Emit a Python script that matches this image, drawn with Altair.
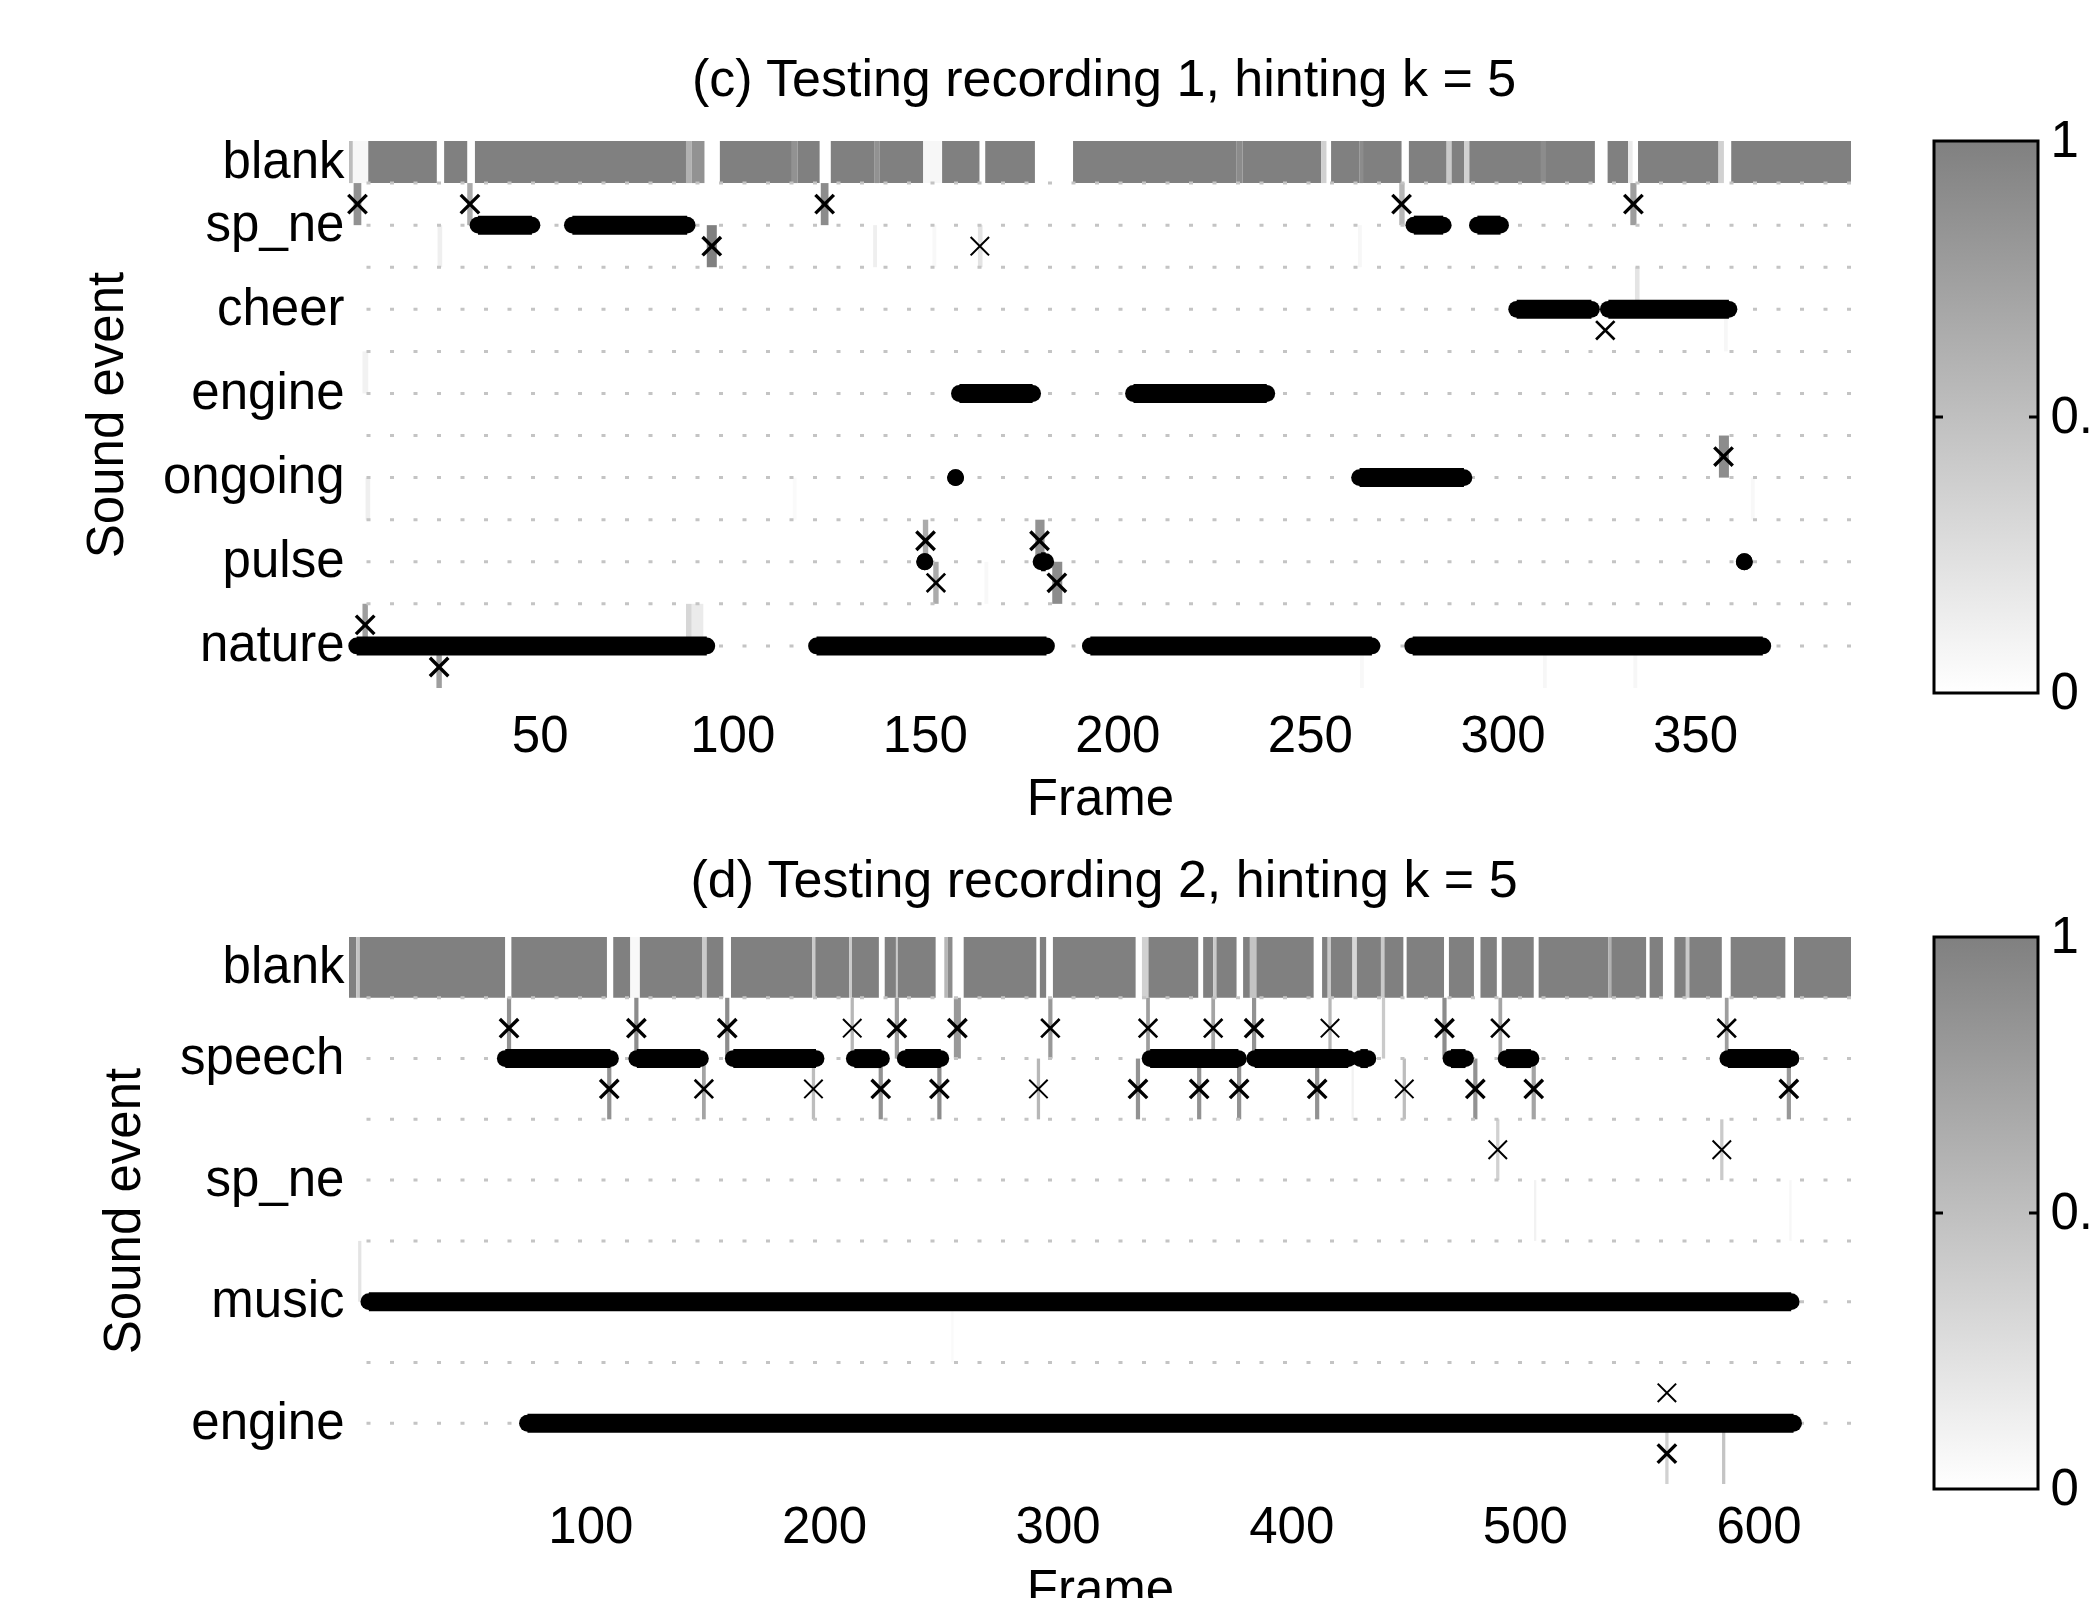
import altair as alt
import pandas as pd

FONT = "Liberation Sans"
FS = 51

# ---------------- panel (c) ----------------
c_title = "(c) Testing recording 1, hinting k = 5"
c_names = ["nature", "pulse", "ongoing", "engine", "cheer", "sp_ne", "blank"]
c_rows = [1, 2, 3, 4, 5, 6, 6.75]
c_xdomain = [0.5, 390.5]
c_ydomain = [0.5, 7.0]
c_xticks = [50, 100, 150, 200, 250, 300, 350]
# blank row heat map: (from frame, to frame, probability)
c_blank = [
    (0.5, 1.5, 0.5), (1.5, 5.5, 0.06), (5.5, 23.3, 1), (25.2, 31.2, 1), (33.2, 88, 1),
    (88, 89.5, 0.6), (89.5, 92.8, 0.85), (96.8, 115.5, 1), (115.5, 117, 0.85), (117, 122.7, 1),
    (125.6, 137, 1), (137, 138.2, 0.85), (138.2, 149.6, 1), (149.6, 154.4, 0.06), (154.5, 164.2, 1),
    (165.7, 178.6, 1), (188.5, 231, 1), (231, 232.5, 0.9), (232.5, 252.9, 1), (252.9, 254.3, 0.35),
    (255.5, 262.8, 1), (262.8, 263.8, 0.9), (263.8, 273.8, 1), (275.7, 285.5, 1), (285.5, 286.8, 0.4),
    (286.8, 290.1, 1), (290.1, 291.4, 0.35), (291.4, 310, 1), (310, 311.3, 0.9), (311.3, 324, 1),
    (327.3, 332.6, 1), (332.6, 333.8, 0.15), (335.2, 356.1, 1), (356.1, 357.5, 0.35), (359.4, 390.5, 1),
]
# other heat-map cells: (from frame, to frame, lower edge of half row, probability)
c_cells = [
    (1.7, 3.7, 6.0, 0.85), (31.2, 32.6, 6.0, 0.65), (123.0, 125.0, 6.0, 0.9), (273.2, 274.6, 6.0, 0.55),
    (333.2, 334.8, 6.0, 0.75),
    (93.4, 96.0, 5.5, 1.0), (163.8, 165.0, 5.5, 0.2), (23.5, 24.7, 5.5, 0.12), (136.6, 137.6, 5.5, 0.12),
    (152.0, 153.0, 5.5, 0.05), (262.5, 263.5, 5.5, 0.06),
    (334.4, 335.6, 5.0, 0.2), (357.5, 358.5, 4.5, 0.06),
    (4.0, 5.5, 4.0, 0.1),
    (356.2, 358.8, 3.0, 0.9),
    (4.8, 6.0, 2.5, 0.12), (115.7, 116.7, 2.5, 0.04), (364.5, 365.5, 2.5, 0.05),
    (149.5, 150.9, 2.0, 0.65), (178.7, 181.1, 2.0, 0.85),
    (152.2, 153.6, 1.5, 0.65), (183.1, 185.7, 1.5, 0.9), (165.5, 166.5, 1.5, 0.05),
    (4.0, 5.4, 1.0, 0.75), (88.0, 89.5, 1.0, 0.3), (89.5, 92.5, 1.0, 0.15),
    (23.2, 24.6, 0.5, 0.75), (263.0, 264.0, 0.5, 0.05), (310.5, 311.5, 0.5, 0.06), (334.0, 335.0, 0.5, 0.06),
]
# ground-truth events: (event, first frame, last frame)
c_events = [
    ("sp_ne", 34, 48), ("sp_ne", 58.5, 88.3), ("sp_ne", 277, 284.6), ("sp_ne", 293.5, 299.5),
    ("cheer", 303.7, 323.1), ("cheer", 327.5, 358.8),
    ("engine", 159, 178), ("engine", 204.2, 238.8),
    ("ongoing", 158, 158), ("ongoing", 262.9, 290),
    ("pulse", 150, 150), ("pulse", 180.2, 181.4), ("pulse", 362.8, 362.8),
    ("nature", 2.5, 93.4), ("nature", 121.9, 181.6), ("nature", 193, 266.1), ("nature", 276.7, 367.6),
]
# hint markers: (frame, y, weight)
c_marks = [
    (2.7, 6.25, 2), (31.9, 6.25, 2), (124.0, 6.25, 2), (273.8, 6.25, 2), (334.0, 6.25, 2),
    (94.7, 5.75, 2), (164.3, 5.75, 0),
    (326.7, 4.75, 1),
    (357.4, 3.25, 2),
    (150.2, 2.25, 2), (179.8, 2.25, 2),
    (152.9, 1.75, 1), (184.3, 1.75, 2),
    (4.7, 1.25, 2), (23.9, 0.75, 2),
]

# ---------------- panel (d) ----------------
d_title = "(d) Testing recording 2, hinting k = 5"
d_names = ["engine", "music", "sp_ne", "speech", "blank"]
d_rows = [1, 2, 3, 4, 4.75]
d_xdomain = [-3.3, 639.6]
d_ydomain = [0.5, 5.0]
d_xticks = [100, 200, 300, 400, 500, 600]
d_blank = [
    (-3.3, -0.2, 1), (-0.2, 1.3, 0.45), (1.3, 63.5, 1), (66.2, 107.1, 1), (109.8, 117.1, 1),
    (117.1, 121.2, 0.05), (121.2, 147.8, 1), (147.8, 149.8, 0.4), (149.8, 156.9, 1), (160.2, 194.9, 1),
    (194.9, 196.3, 0.4), (196.3, 210.8, 1), (210.8, 212, 0.4), (212, 223.5, 1), (226, 230.8, 1),
    (230.8, 231.6, 0.4), (231.6, 247.8, 1), (251.5, 253, 0.55), (253, 255, 0.9), (259.8, 290.9, 1),
    (292.4, 295.1, 1), (298, 333.4, 1), (336.1, 338.9, 0.35), (338.9, 360.2, 1), (362.3, 366.6, 1),
    (366.6, 368, 0.4), (368, 376.6, 1), (379.4, 382.3, 1), (382.3, 385.1, 0.45), (385.1, 409.6, 1),
    (413.2, 415.6, 1), (415.6, 417, 0.4), (417, 426.2, 1), (426.2, 428.1, 0.3), (428.1, 438.4, 1),
    (438.4, 439.9, 0.4), (439.9, 448, 1), (449.4, 465.4, 1), (467.5, 478.2, 1), (481, 488, 1),
    (490.1, 503.8, 1), (505.9, 535.7, 1), (535.7, 537, 0.6), (537, 551.9, 1), (553.4, 559.1, 1),
    (564, 568.9, 1), (568.9, 570.4, 0.4), (570.4, 584.3, 1), (588.1, 611.5, 1), (615.2, 639.6, 1),
]
d_cells = [
    (64.3, 66.1, 4.0, 0.85), (118.8, 120.6, 4.0, 0.9), (157.7, 159.5, 4.0, 0.9), (211.4, 212.8, 4.0, 0.55),
    (230.3, 232.1, 4.0, 0.75), (255.6, 258.6, 4.0, 0.8), (296.0, 297.8, 4.0, 0.8), (337.9, 339.5, 4.0, 0.75),
    (365.8, 367.4, 4.0, 0.7), (383.2, 385.0, 4.0, 0.85), (415.9, 417.3, 4.0, 0.55), (438.8, 440.2, 4.0, 0.4),
    (464.7, 466.5, 4.0, 0.9), (488.7, 490.3, 4.0, 0.7), (585.6, 587.2, 4.0, 0.75),
    (107.2, 109.0, 3.5, 0.85), (147.8, 149.4, 3.5, 0.7), (194.8, 196.2, 3.5, 0.5), (223.4, 225.2, 3.5, 0.85),
    (248.5, 250.3, 3.5, 0.9), (291.1, 292.5, 3.5, 0.55), (333.5, 335.3, 3.5, 0.85), (359.7, 361.5, 3.5, 0.85),
    (376.8, 378.6, 3.5, 0.85), (410.2, 412.0, 3.5, 0.85), (425.8, 426.8, 3.5, 0.1), (447.7, 449.1, 3.5, 0.5),
    (477.9, 479.7, 3.5, 0.85), (502.9, 504.7, 3.5, 0.7), (612.1, 613.9, 3.5, 0.8),
    (487.7, 489.1, 3.0, 0.35), (583.6, 585.0, 3.0, 0.4),
    (503.9, 504.9, 2.5, 0.1), (613.2, 614.2, 2.5, 0.06),
    (0.6, 2.0, 2.0, 0.2), (254.5, 255.5, 1.5, 0.04),
    (560.1, 561.5, 0.5, 0.35), (584.4, 585.8, 0.5, 0.45),
]
d_events = [
    ("speech", 63.6, 108.6), ("speech", 119.9, 147.1), ("speech", 161.2, 196.6), ("speech", 213, 224.6),
    ("speech", 234.8, 250), ("speech", 339.6, 377.4), ("speech", 384.4, 424.4), ("speech", 429.6, 432.8),
    ("speech", 468.4, 474.6), ("speech", 492, 502.6), ("speech", 586.9, 613.9),
    ("music", 5.2, 614),
    ("engine", 73.1, 615),
]
d_marks = [
    (65.2, 4.25, 2), (119.7, 4.25, 2), (158.6, 4.25, 2), (212.1, 4.25, 0), (231.2, 4.25, 2),
    (257.1, 4.25, 2), (296.9, 4.25, 1), (338.7, 4.25, 1), (366.6, 4.25, 1), (384.1, 4.25, 2),
    (416.6, 4.25, 0), (465.6, 4.25, 2), (489.5, 4.25, 1), (586.4, 4.25, 1),
    (108.1, 3.75, 2), (148.6, 3.75, 1), (195.5, 3.75, 0), (224.3, 3.75, 2), (249.4, 3.75, 2),
    (291.8, 3.75, 0), (334.4, 3.75, 2), (360.6, 3.75, 2), (377.7, 3.75, 2), (411.1, 3.75, 2),
    (448.4, 3.75, 0), (478.8, 3.75, 2), (503.8, 3.75, 2), (613.0, 3.75, 2),
    (488.4, 3.25, 0), (584.3, 3.25, 0),
    (560.8, 1.25, 0), (560.8, 0.75, 2),
]

cb_ticks = [0, 0.5, 1]

PW, PH = 1502, 547
CBW, CBH = 104, 552
LINE_W = 19
XPATH = "M-1,-1L1,1M-1,1L1,-1"


def panel(title, names, rows, xdomain, ydomain, xticks, blank, cells, events, marks, label_pad):
    pos = dict(zip(names, rows))
    blank_y0 = rows[-1] - 0.25
    cell_df = pd.DataFrame([(a, b, blank_y0, p) for a, b, p in blank] + list(cells),
                           columns=["x0", "x1", "y0", "p"])
    cell_df["y1"] = cell_df["y0"] + 0.5
    grid_vals = sorted(list(rows[:-1]) + [r + 0.5 for r in rows[:-1]])
    grid_df = pd.DataFrame({"g": grid_vals})
    ev_df = pd.DataFrame(events, columns=["name", "start", "end"])
    ev_df["row"] = ev_df["name"].map(pos)
    mk_df = pd.DataFrame(marks, columns=["f", "y", "w"])

    label_expr = " : ".join(f"datum.value == {r} ? '{n}'" for n, r in zip(names, rows)) + " : ''"
    xs = alt.Scale(domain=xdomain, nice=False, zero=False)
    ys = alt.Scale(domain=ydomain, nice=False, zero=False)
    xaxis = alt.Axis(values=xticks, ticks=False, domain=False, grid=False, labelPadding=label_pad,
                     titlePadding=13, labelFontSize=FS, titleFontSize=FS, labelFont=FONT,
                     titleFont=FONT, titleFontWeight="normal", labelColor="black",
                     titleColor="black", labelFlush=False, format="d")
    yaxis = alt.Axis(values=rows, labelExpr=label_expr, ticks=False, domain=False, grid=False,
                     labelPadding=5, titlePadding=29, labelFontSize=FS, titleFontSize=FS,
                     labelFont=FONT, titleFont=FONT, titleFontWeight="normal", labelLimit=500,
                     labelColor="black", titleColor="black")

    def X(f):
        return alt.X(f, scale=xs, axis=xaxis, title="Frame")

    def Y(f):
        return alt.Y(f, scale=ys, axis=yaxis, title="Sound event")

    heat = alt.Chart(cell_df).mark_rect(clip=True).encode(
        x=X("x0:Q"), x2="x1:Q", y=Y("y0:Q"), y2="y1:Q",
        color=alt.Color("p:Q", scale=alt.Scale(domain=[0, 1], range=["#ffffff", "#808080"]),
                        legend=None),
    )
    grid = alt.Chart(grid_df).mark_rule(color="#c4c4c4", strokeWidth=3, strokeDash=[4, 19.5]).encode(
        y=Y("g:Q")
    )
    ev_lines = alt.Chart(ev_df).mark_rule(color="black", strokeWidth=LINE_W, strokeCap="butt").encode(
        x=X("start:Q"), x2="end:Q", y=Y("row:Q")
    )
    ev_caps = alt.Chart(ev_df).transform_fold(["start", "end"], as_=["k", "fr"]).mark_circle(
        color="black", opacity=1, size=3.1416 * (LINE_W / 2) ** 2
    ).encode(x=X("fr:Q"), y=Y("row:Q"))
    mk = alt.Chart(mk_df).mark_point(shape=XPATH, filled=False, size=340, color="black", opacity=1).encode(
        x=X("f:Q"), y=Y("y:Q"),
        strokeWidth=alt.StrokeWidth("w:O", scale=alt.Scale(domain=[0, 1, 2], range=[2.0, 3.4, 4.6]),
                                    legend=None),
    )
    return alt.layer(heat, grid, ev_lines, ev_caps, mk).properties(
        width=PW, height=PH,
        title=alt.TitleParams(text=title, fontSize=52, fontWeight="normal", font=FONT,
                              color="black", offset=29.5, anchor="middle", dx=4),
    )


def colorbar():
    s = alt.Scale(domain=[cb_ticks[0], cb_ticks[-1]], nice=False, zero=False)
    ax = alt.Axis(orient="right", values=cb_ticks, ticks=False, domain=False, grid=False,
                  labelPadding=12, labelFontSize=FS, labelFont=FONT, labelColor="black",
                  format=".1~f", title=None)
    bar_df = pd.DataFrame({"lo": [cb_ticks[0]], "hi": [cb_ticks[-1]]})
    grad = alt.LinearGradient(
        gradient="linear",
        stops=[alt.GradientStop(color="#808080", offset=0), alt.GradientStop(color="#ffffff", offset=1)],
        x1=0, x2=0, y1=0, y2=1,
    )
    bar = alt.Chart(bar_df).mark_rect(fill=grad, stroke="black", strokeWidth=3).encode(
        y=alt.Y("lo:Q", scale=s, axis=ax), y2="hi:Q", x=alt.value(0), x2=alt.value(CBW)
    )
    mid_df = pd.DataFrame({"v": [cb_ticks[1]]})
    t1 = alt.Chart(mid_df).mark_rule(color="black", strokeWidth=3).encode(
        y=alt.Y("v:Q", scale=s, axis=ax), x=alt.value(0), x2=alt.value(9)
    )
    t2 = alt.Chart(mid_df).mark_rule(color="black", strokeWidth=3).encode(
        y=alt.Y("v:Q", scale=s, axis=ax), x=alt.value(CBW - 9), x2=alt.value(CBW)
    )
    return alt.layer(bar, t1, t2).properties(width=CBW, height=CBH)


pc = panel(c_title, c_names, c_rows, c_xdomain, c_ydomain, c_xticks, c_blank, c_cells, c_events,
           c_marks, 23)
pdd = panel(d_title, d_names, d_rows, d_xdomain, d_ydomain, d_xticks, d_blank, d_cells, d_events,
            d_marks, 18)

# with autosize "none" the first plot's origin sits at (PAD_L, PAD_T); anything past the page edge is clipped
PAD_L, PAD_T = 349, 141
chart = alt.concat(pc, colorbar(), pdd, colorbar(), columns=2, spacing={"row": 30, "column": 79}).properties(
    autosize=alt.AutoSizeParams(type="none"),
    padding={"left": PAD_L, "top": PAD_T, "right": 2089 - PAD_L, "bottom": 1598 - PAD_T},
    background="white",
).configure_view(
    stroke="transparent", strokeWidth=0
).configure(
    font=FONT, style={"cell": {"stroke": "transparent", "strokeWidth": 0}}
)

chart.save("out.html", embed_options={"renderer": "svg", "actions": False})
